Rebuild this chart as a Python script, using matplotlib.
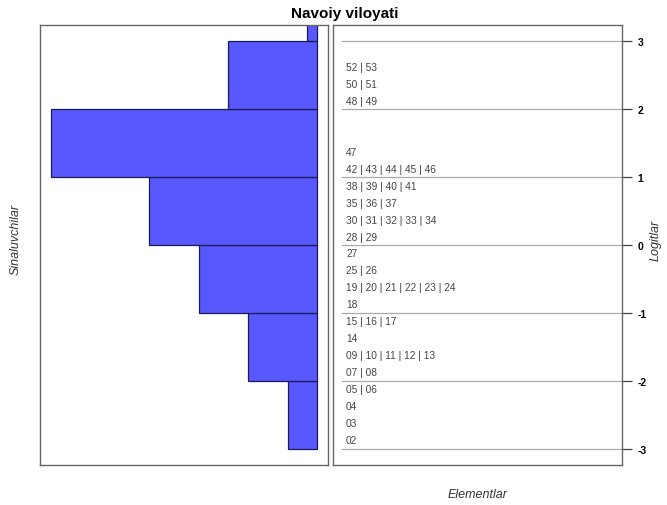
import numpy as np
import matplotlib
matplotlib.use("Agg")
from matplotlib import pyplot as plt

# person distribution (count of respondents per logit bin)
bin_lower = [-3, -2, -1, 0, 1, 2, 3]
person_counts = [3, 7, 12, 17, 27, 9, 1]

# item labels and their logit positions
item_labels = [
    "52 | 53", "50 | 51", "48 | 49", "47", "42 | 43 | 44 | 45 | 46",
    "38 | 39 | 40 | 41", "35 | 36 | 37", "30 | 31 | 32 | 33 | 34", "28 | 29",
    "27", "25 | 26", "19 | 20 | 21 | 22 | 23 | 24", "18", "15 | 16 | 17", "14",
    "09 | 10 | 11 | 12 | 13", "07 | 08", "05 | 06", "04", "03", "02",
]
item_logits = [
    2.625, 2.375, 2.125, 1.375, 1.125,
    0.875, 0.625, 0.375, 0.125,
    -0.125, -0.375, -0.625, -0.875, -1.125, -1.375,
    -1.625, -1.875, -2.125, -2.375, -2.625, -2.875,
]
logit_ticks = [-3, -2, -1, 0, 1, 2, 3]

plt.rcParams["font.family"] = ["Liberation Sans", "DejaVu Sans"]

fig = plt.figure(figsize=(6.67, 5.06), dpi=100)
ylim = (-3.24, 3.24)
box_color = "#666666"

# left panel: persons histogram
ax1 = fig.add_axes([40 / 667, 40 / 506, 288 / 667, 440 / 506])
ax1.barh(bin_lower, person_counts, height=1, align="edge",
         color="#5858FF", edgecolor="#1c1c55", linewidth=0.9)
ax1.set_xlim(max(person_counts) * 1.04, -max(person_counts) * 0.04)
ax1.set_ylim(*ylim)
ax1.set_xticks([])
ax1.set_yticks([])
for s in ax1.spines.values():
    s.set_color(box_color)
    s.set_linewidth(1.0)

# right panel: items
ax2 = fig.add_axes([333 / 667, 40 / 506, 289 / 667, 440 / 506])
ax2.set_xlim(0, 1)
ax2.set_ylim(*ylim)
for t in logit_ticks:
    ax2.plot([0.03, 0.995], [t, t], color="#aaaaaa", linewidth=0.9)
for lab, y in zip(item_labels, item_logits):
    ax2.text(0.045, y, lab, fontsize=7.3, color="#444444", va="center", ha="left")
ax2.set_xticks([])
ax2.yaxis.tick_right()
ax2.set_yticks(logit_ticks)
ax2.set_yticklabels([str(t) for t in logit_ticks], fontweight="bold", fontsize=7.5)
ax2.tick_params(axis="y", direction="out", length=7, width=0.9,
                color="#444444", pad=4)
for s in ax2.spines.values():
    s.set_color(box_color)
    s.set_linewidth(1.0)

fig.text(345 / 667, 1 - 14 / 506, "Navoiy viloyati", fontsize=11,
         fontweight="bold", ha="center", va="center")
fig.text(16 / 667, 1 - 240 / 506, "Sinaluvchilar", fontsize=9, style="italic",
         rotation=90, ha="center", va="center", color="#333333")
fig.text(656 / 667, 1 - 240 / 506, "Logitlar", fontsize=9, style="italic",
         rotation=90, ha="center", va="center", color="#333333")
fig.text(478 / 667, 1 - 495 / 506, "Elementlar", fontsize=9, style="italic",
         ha="center", va="center", color="#333333")

fig.savefig("out.png", dpi=100)
